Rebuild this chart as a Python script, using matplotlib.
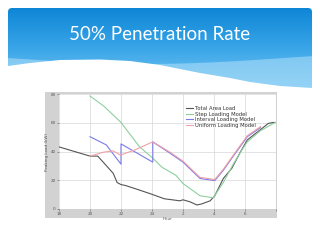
import numpy as np
import matplotlib
matplotlib.use("Agg")
import matplotlib.pyplot as plt
from matplotlib.patches import FancyBboxPatch, Polygon, Rectangle
from matplotlib.colors import LinearSegmentedColormap

# ---------------- data ----------------
total_h = [18, 20, 20.5, 21.5, 21.75, 22, 22.3, 22.9, 23.9, 24.8, 25.8, 26.0, 26.45, 26.9, 27.2,
           27.75, 28.05, 28.6, 29.15, 29.7, 30.15, 31.0, 31.5, 31.8, 32]
total_v = [43.2, 36.8, 36.8, 24.8, 18.4, 17, 16.3, 14.2, 10.6, 7.1, 5.7, 6.4, 5, 2.8, 3.5,
           5.7, 9.2, 21.2, 28.3, 39.6, 48.1, 55.2, 59.5, 60.2, 60.2]
step_h = [20, 20.9, 22, 23.2, 24.05, 24.65, 25.55, 26, 27.1, 27.95, 28.6, 29.2, 29.8, 30.15, 31, 31.95, 32]
step_v = [78.6, 71.5, 60.2, 43.2, 35.4, 29, 23.4, 17.7, 9.2, 7.8, 18.4, 30.4, 41.1, 46.7, 54.5, 60.2, 60.2]
interval_h = [20, 21.05, 22, 22, 24.05, 24.05, 25.15, 26, 27.1, 28.05, 28.6, 29.2, 30.15, 31.0]
interval_v = [50.3, 44.6, 31.2, 45.3, 32.6, 46.7, 38.9, 32.6, 21.2, 19.8, 26.9, 36.1, 50.3, 56.6]
uniform_h = [20, 20.9, 21.5, 21.95, 22.9, 24.05, 25.15, 26, 27.1, 28.05, 28.6, 29.2, 30.15, 31.0]
uniform_v = [36.8, 39.6, 40.4, 37.5, 41.1, 46.7, 39.6, 33.3, 22, 20.5, 27.6, 36.8, 51, 57.3]

xtick_pos = [18, 20, 22, 24, 26, 28, 30, 32]
xtick_lab = ["18", "20", "22", "24", "2", "4", "6", ""]
ytick_pos = [0, 20, 40, 60, 80]
ytick_lab = ["0", "20", "40", "60", "80"]
series_names = ["Total Area Load", "Step Loading Model", "Interval Loading Model", "Uniform Loading Model"]

W, H = 320, 240
fig = plt.figure(figsize=(3.2, 2.4), dpi=100)
fig.patch.set_facecolor("white")

# ------------- slide background -------------
bg = fig.add_axes([0, 0, 1, 1])
bg.set_xlim(0, W)
bg.set_ylim(H, 0)
bg.axis("off")

grad = np.linspace(0, 1, 256).reshape(-1, 1)
cmap = LinearSegmentedColormap.from_list("b", ["#0e86d6", "#3aa6e8", "#7cc8f4"])
im = bg.imshow(grad, extent=[8, 312, 90, 8], cmap=cmap, aspect="auto", zorder=1)
clip = FancyBboxPatch((8, 8), 304, 82, boxstyle="round,pad=0,rounding_size=4",
                      transform=bg.transData, facecolor="none", edgecolor="none")
bg.add_patch(clip)
im.set_clip_path(clip)

# light swoosh
xs = np.linspace(8, 312, 100)
sw_top = 58 + 6 * np.sin((xs - 8) / 304 * np.pi * 1.1)
light = Polygon(np.column_stack([np.r_[xs, xs[::-1]],
                                 np.r_[sw_top, np.full_like(xs, 92)]]),
                closed=True, facecolor="#a8dcf8", edgecolor="none", alpha=0.6, zorder=2)
bg.add_patch(light)

# white wave
wx = np.array([0, 8, 30, 60, 100, 130, 160, 200, 230, 250, 280, 312, 320])
wy = np.array([66, 66, 63, 60, 59.5, 61, 65, 73, 78, 82, 86, 88, 88])
wave = Polygon(np.column_stack([np.r_[wx, wx[::-1]], np.r_[wy, np.full_like(wy, 100)]]),
               closed=True, facecolor="white", edgecolor="none", zorder=3)
bg.add_patch(wave)

bg.text(160, 34.5, "50% Penetration Rate", color="white", fontsize=13.5,
        family="Lato", ha="center", va="center", zorder=4)

# chart frame
bg.add_patch(Rectangle((45, 92), 232, 126, facecolor="#d2d2d2", edgecolor="none", zorder=4))

# ------------- chart -------------
ax = fig.add_axes([59 / W, 1 - 209 / H, 217 / W, 115 / H])
ax.set_facecolor("white")
ax.plot(total_h, total_v, color="#555555", lw=0.8, label=series_names[0])
ax.plot(step_h, step_v, color="#8fcf9f", lw=0.8, label=series_names[1])
ax.plot(interval_h, interval_v, color="#7b7be6", lw=0.8, label=series_names[2])
ax.plot(uniform_h, uniform_v, color="#f0a0a8", lw=0.8, label=series_names[3])
ax.set_xlim(18, 32)
ax.set_ylim(0, 80)
ax.set_xticks(xtick_pos)
ax.set_xticklabels(xtick_lab)
ax.set_yticks(ytick_pos)
ax.set_yticklabels(ytick_lab)
ax.tick_params(labelsize=3, colors="#555555", length=1.5, width=0.4, pad=1)
ax.grid(True, color="#d8d8d8", lw=0.5)
for s in ax.spines.values():
    s.set_visible(False)
ax.set_xlabel("Hour", fontsize=3, color="#555555", labelpad=0.5)
ax.set_ylabel("Peaking Load (kW)", fontsize=3, color="#555555", labelpad=1)
leg = ax.legend(loc="upper left", bbox_to_anchor=(0.57, 0.93), fontsize=3.8, frameon=False,
                handlelength=1.3, handletextpad=0.4, labelspacing=0.15, borderpad=0.2)
for t in leg.get_texts():
    t.set_color("#333333")

fig.savefig("out.png", dpi=100, facecolor="white")
